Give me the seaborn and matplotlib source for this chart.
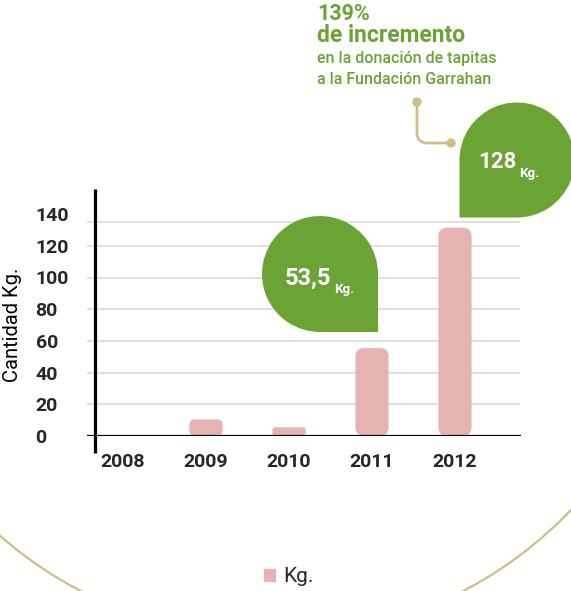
import numpy as np
import pandas as pd
import matplotlib
matplotlib.use('Agg')
import matplotlib.pyplot as plt
import seaborn as sns
from matplotlib.patches import FancyBboxPatch, PathPatch, Circle, Patch
from matplotlib.path import Path

# data
years = ['2008', '2009', '2010', '2011', '2012']
kg = [0, 10.5, 5.5, 55.5, 131.5]
y_ticks = [0, 20, 40, 60, 80, 100, 120, 140]
series_name = 'Kg.'
y_title = 'Cantidad Kg.'
highlight_values = ['53,5', '128']
headline = ['139%', 'de incremento']
subline = ['en la donación de tapitas', 'a la Fundación Garrahan']

GREEN = '#6ba335'
PINK = '#e6b3b3'
TAN = '#cfbf85'
GRID = '#d9d9d9'

sns.set_style('white')
plt.rcParams['font.family'] = ['Roboto', 'DejaVu Sans']

W, H = 571, 591
fig = plt.figure(figsize=(W / 100, H / 100), dpi=100)
inch = fig.dpi_scale_trans


def px(x, y):
    # pixel position (from top-left) to inches for dpi_scale_trans
    return x / 100, (H - y) / 100


# axes box: x 87..521 px, y 189..436 px
ax = fig.add_axes([87 / W, (H - 436) / H, 434 / W, 247 / H])

df = pd.DataFrame({'year': years, 'kg': kg})
sns.barplot(data=df, x='year', y='kg', order=years, color=PINK, saturation=1,
            width=0.4, ax=ax, zorder=2)

ax.set_xlim((87 - 123) / 83, (521 - 123) / 83)
ax.set_ylim(0, 247 / 1.585)

# rounded bars
xpx = 1 / 83.0
ypx = 1 / 1.585
for p in list(ax.patches):
    x0, w, h = p.get_x(), p.get_width(), p.get_height()
    p.remove()
    if h <= 0:
        continue
    rad_px = min(9, h / ypx / 3)
    fb = FancyBboxPatch((x0, 0), w, h,
                        boxstyle='round,pad=0,rounding_size=%f' % (rad_px * xpx),
                        mutation_aspect=ypx / xpx, fc=PINK, ec='none', zorder=2)
    ax.add_patch(fb)

for s in ax.spines.values():
    s.set_visible(False)

# grid
ax.hlines(y_ticks[1:-1] + [135], (87 - 123) / 83, (520 - 123) / 83, color=GRID, lw=1.2, zorder=1)
# axis lines
ax.axhline(0, color='black', lw=2.3, zorder=3)
ax.plot([(95 - 123) / 83] * 2, [-17 / 1.585, 247 / 1.585], color='black', lw=2.3,
        clip_on=False, zorder=3, solid_capstyle='butt')

ax.set_yticks(y_ticks)
ax.set_yticklabels([str(t) for t in y_ticks])
ax.tick_params(axis='y', length=0, pad=37, labelsize=14)
ax.tick_params(axis='x', length=0, pad=12, labelsize=14)
for lab in ax.get_yticklabels():
    lab.set_ha('left')
    lab.set_fontweight('semibold')
for lab in ax.get_xticklabels():
    lab.set_fontweight('semibold')
ax.set_xlabel('')
ax.set_ylabel(y_title, fontsize=14.5, color='black')
ax.yaxis.set_label_coords(-0.15, 0.45)

# legend
fig.legend(handles=[Patch(color=PINK, label=series_name)], loc='center',
           bbox_to_anchor=(289 / W, 1 - 577 / H), frameon=False, fontsize=15,
           handlelength=0.5, handleheight=0.5, handletextpad=0.4)


# green drops
def drop(cx, cy, r, corner):
    if corner == 'br':
        arc = Path.arc(0, 270)
        cp = (1, -1)
    else:
        arc = Path.arc(270, 540)
        cp = (-1, -1)
    verts = np.vstack([arc.vertices, [cp], [arc.vertices[0]]]) * r
    cxi, cyi = px(cx, cy)
    verts = verts + np.array([cxi, cyi])
    codes = list(arc.codes) + [Path.LINETO, Path.CLOSEPOLY]
    fig.patches.append(PathPatch(Path(verts, codes), fc=GREEN, ec='none',
                                 transform=inch, figure=fig))


drop(320, 274, 0.58, 'br')
drop(517, 160, 0.575, 'bl')

fig.text(*px(285, 285), highlight_values[0], transform=inch, color='white',
         fontsize=17, fontweight='bold', va='baseline')
fig.text(*px(334, 293), series_name, transform=inch, color='white',
         fontsize=9.5, fontweight='bold', va='baseline')
fig.text(*px(478, 168), highlight_values[1], transform=inch, color='white',
         fontsize=16, fontweight='bold', va='baseline')
fig.text(*px(519, 177), series_name, transform=inch, color='white',
         fontsize=9.5, fontweight='bold', va='baseline')

# headline
fig.text(*px(317, 20.5), headline[0], transform=inch, color=GREEN,
         fontsize=15.5, fontweight='bold', va='baseline')
fig.text(*px(317, 42.5), headline[1], transform=inch, color=GREEN,
         fontsize=16.5, fontweight='bold', va='baseline')
fig.text(*px(317, 63), subline[0], transform=inch, color=GREEN,
         fontsize=11.5, fontweight='medium', va='baseline')
fig.text(*px(317, 84), subline[1], transform=inch, color=GREEN,
         fontsize=11.5, fontweight='medium', va='baseline')

# connector
cverts = [px(417, 102), px(417, 133), px(417, 143), px(427, 143), px(451, 143)]
ccodes = [Path.MOVETO, Path.LINETO, Path.CURVE3, Path.CURVE3, Path.LINETO]
fig.patches.append(PathPatch(Path(cverts, ccodes), fc='none', ec=TAN, lw=2,
                             transform=inch, figure=fig))
for pt in (px(417, 102), px(451, 143)):
    fig.patches.append(Circle(pt, 0.047, fc=TAN, ec='none', transform=inch, figure=fig))

# big background arc
fig.patches.append(Circle(px(272, 225), 4.13, fc='none', ec=TAN, lw=1.6,
                          transform=inch, figure=fig, zorder=0))

fig.savefig('out.png', dpi=100)
